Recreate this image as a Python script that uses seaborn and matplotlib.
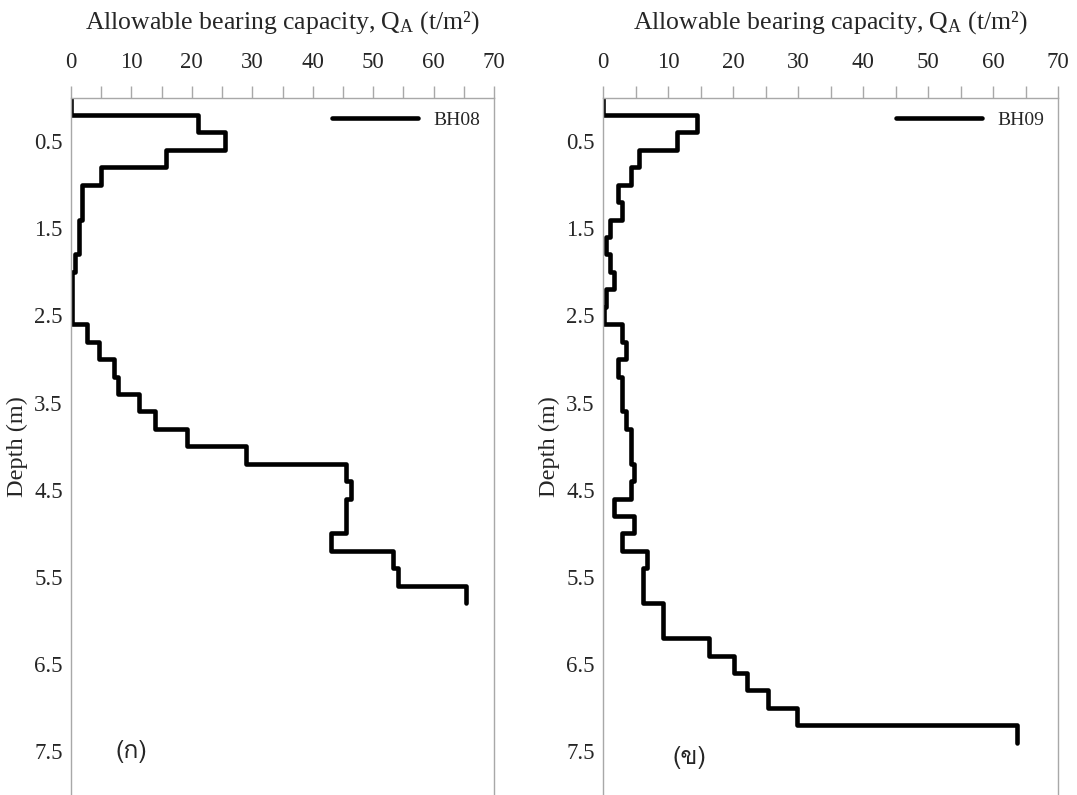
# --- Plot: allowable bearing capacity vs depth for BH08 / BH09 ---
import numpy as np
import pandas as pd
import seaborn as sns
import matplotlib.pyplot as plt
from matplotlib import font_manager
from matplotlib.ft2font import FT2Font

# layer thickness (m) and Q_A per layer (t/m2)
layer = 0.2
bh08_qa = [0, 21, 25.5, 15.7, 5, 1.9, 1.9, 1.3, 1.3, 0.6, 0.2, 0.2, 0.2,
           2.6, 4.6, 7.1, 7.8, 11.3, 13.9, 19.2, 29, 45.5, 46.3, 45.5, 45.5,
           43, 53.3, 54.1, 65.3]
bh09_qa = [0, 14.5, 11.4, 5.5, 4.3, 2.3, 2.9, 1.1, 0.5, 1.1, 1.7, 0.5, 0.2,
           2.9, 3.6, 2.3, 2.9, 2.9, 3.5, 4.3, 4.3, 4.8, 4.3, 1.7, 4.8, 2.9,
           6.8, 6.1, 6.1, 9.2, 9.2, 16.3, 20.2, 22.1, 25.4, 29.8, 63.7]
holes = ['BH08', 'BH09']
panel_tags = ['(ก)', '(ข)']
x_ticks = list(range(0, 71, 10))
y_ticks = [0.5, 1.5, 2.5, 3.5, 4.5, 5.5, 6.5, 7.5]


def step_frame(values, name):
    # each layer becomes a vertical segment from its top to its bottom
    top = np.arange(len(values)) * layer
    depth = np.column_stack([top, top + layer]).ravel()
    return pd.DataFrame({'qa': np.repeat(values, 2), 'depth': depth, 'hole': name})


def thai_font():
    # pick any installed font that carries Thai glyphs
    for f in font_manager.fontManager.ttflist:
        try:
            if 0x0E01 in FT2Font(f.fname).get_charmap():
                return f.name
        except Exception:
            pass
    return 'DejaVu Sans'


sns.set_style('white')
plt.rcParams['font.family'] = ['Liberation Serif', 'DejaVu Serif']
plt.rcParams['mathtext.fontset'] = 'custom'
plt.rcParams['mathtext.rm'] = 'Liberation Serif'
plt.rcParams['mathtext.it'] = 'Liberation Serif:italic'
thai = thai_font()

grey = '#a8a8a8'
fig = plt.figure(figsize=(10.77, 7.95), dpi=100)
ax1 = fig.add_axes([71 / 1077, 0, 423 / 1077, 697.5 / 795])
ax2 = fig.add_axes([603 / 1077, 0, 455 / 1077, 697.5 / 795])

tag_pos = [(0.142, 0.062), (0.19, 0.054)]
for ax, vals, name, tag, pos in zip([ax1, ax2], [bh08_qa, bh09_qa], holes,
                                    panel_tags, tag_pos):
    df = step_frame(vals, name)
    sns.lineplot(data=df, x='qa', y='depth', sort=False, estimator=None,
                 color='black', lw=3.3, label=name, ax=ax)

    ax.set_xlim(0, 70)
    ax.set_ylim(8, 0)
    ax.xaxis.tick_top()
    ax.xaxis.set_label_position('top')
    ax.set_xticks(x_ticks)
    ax.set_xticks(np.arange(5, 70, 10), minor=True)
    ax.set_yticks(y_ticks)
    ax.set_yticklabels([f'{t:.1f}' for t in y_ticks])
    ax.tick_params(axis='x', which='both', direction='out', length=8.5,
                   width=1, color=grey, pad=9, labelsize=16.5, top=True, bottom=False)
    ax.tick_params(axis='y', direction='in', length=6, width=1, color=grey,
                   pad=6, labelsize=16.5)

    ax.set_xlabel(r'Allowable bearing capacity, $\mathrm{Q_{A}}$ (t/m²)',
                  fontsize=18.5, labelpad=17)
    ax.set_ylabel('Depth (m)', fontsize=17.5, labelpad=4)

    for side in ['top', 'left', 'right']:
        ax.spines[side].set_color(grey)
        ax.spines[side].set_linewidth(1)
    ax.spines['bottom'].set_visible(False)

    ax.legend(loc='upper right', frameon=False, fontsize=14,
              handlelength=4.4, borderaxespad=0.3)
    ax.text(pos[0], pos[1], tag, transform=ax.transAxes, fontsize=18,
            family=[thai, 'DejaVu Sans'], ha='center', va='center')

fig.savefig('out.png', dpi=100)
